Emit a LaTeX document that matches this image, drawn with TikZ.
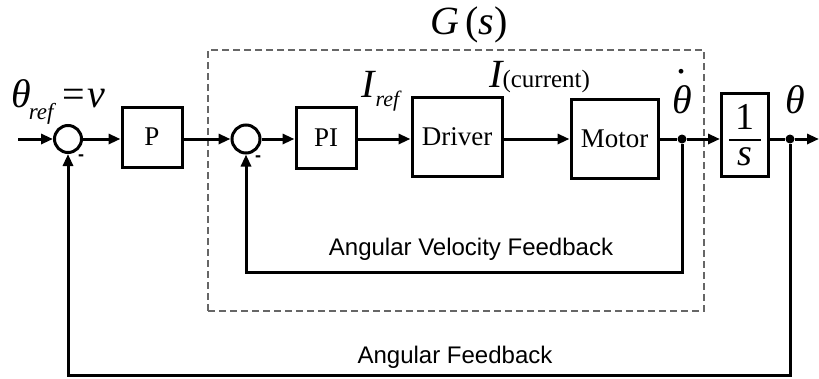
\documentclass[tikz,border=0pt]{standalone}
\usepackage{fontspec}
\setmainfont{Liberation Serif}
\setsansfont{Liberation Sans}
\usetikzlibrary{arrows.meta,positioning}
\newcommand{\dotTheta}{\ooalign{θ\cr\hidewidth\raisebox{1.0em}{.}\hidewidth\cr}}

\begin{document}
\begin{tikzpicture}[
  x=1pt, y=-1pt,
  >={Triangle[length=12pt,width=10pt]},
  signal/.style={->, draw=black, line width=3pt},
  wire/.style={draw=black, line width=3pt},
  block/.style={
    draw=black, fill=white, line width=3pt,
    inner sep=0pt, font=\fontsize{27}{29}\selectfont
  },
  summer/.style={
    circle, draw=black, line width=3pt,
    minimum size=27pt, inner sep=0pt
  },
  branch/.style={circle, fill=black, minimum size=9pt, inner sep=0pt},
  plant/.style={
    draw=black!60, dash pattern=on 7pt off 4pt,
    line width=1.3pt, inner sep=0pt
  },
  symbol/.style={font=\fontsize{40}{42}\selectfont\itshape, inner sep=0pt},
  annotation/.style={font=\sffamily\fontsize{24}{26}\selectfont, inner sep=0pt},
  minus/.style={font=\sffamily\bfseries\fontsize{18}{18}\selectfont, inner sep=0pt}
]
\useasboundingbox (0,0) rectangle (819,378);

% Plant G(s) boundary.
\node[plant, minimum width=496pt, minimum height=261pt] (plantBox) at (456,180.5) {};
\node[symbol, anchor=base] (plantLabel) at (469,34)
  {G\,{\upshape(}s{\upshape)}};

% Forward path.
\coordinate (input) at (18,139);
\node[summer] (sumOuter) at (68,139) {};
\node[block, minimum width=60pt, minimum height=60pt] (pCtrl) at (152,137) {P};
\node[summer, minimum size=28pt] (sumInner) at (246,139) {};
\node[block, minimum width=60pt, minimum height=61pt] (piCtrl) at (326,137.5) {PI};
\node[block, minimum width=90pt, minimum height=79pt] (driver) at (457,136.5) {Driver};
\node[block, minimum width=87pt, minimum height=79pt] (motor) at (614.5,138.5) {Motor};
\node[branch] (velFork) at (682,139) {};
\node[block, minimum width=47pt, minimum height=83pt] (integrator) at (745,135)
  {\fontsize{38}{38}\selectfont
   $\displaystyle{\makebox[32pt]{1}\above 2pt\mbox{\itshape s}}$};
\node[branch] (angFork) at (790,139) {};
\coordinate (output) at (819,139);

\draw[signal] (input) -- (sumOuter.west);
\draw[signal] (sumOuter.east) -- (sumOuter -| pCtrl.west);
\draw[signal] (sumOuter -| pCtrl.east) -- (sumInner.west);
\draw[signal] (sumInner.east) -- (sumInner -| piCtrl.west);
\draw[signal] (sumInner -| piCtrl.east) -- (sumInner -| driver.west);
\draw[signal] (sumInner -| driver.east) -- (sumInner -| motor.west);
\draw[wire] (sumInner -| motor.east) -- (velFork);
\draw[signal] (velFork) -- (velFork -| integrator.west);
\draw[wire] (velFork -| integrator.east) -- (angFork);
\draw[signal] (angFork) -- (output);

% Feedback loops.
\draw[signal] (velFork) -- ++(0,133) -| (sumInner.south);
\draw[signal] (angFork) -- ++(0,236) -| (sumOuter.south);
\node[minus] (minusOuter) at (81,158) {-};
\node[minus] (minusInner) at (258,159) {-};

% Signal labels.
\node[symbol, anchor=base west] (refLabel) at (11,107)
  {θ\kern-2pt\raisebox{-12pt}{\fontsize{23}{23}\selectfont ref}\hspace{9pt}{\upshape =}\hspace{2pt}v};
\node[symbol, anchor=base west] (irefLabel) at (361,97)
  {I\kern1pt\raisebox{-9pt}{\fontsize{22}{22}\selectfont ref}};
\node[symbol, anchor=base west] (icurLabel) at (489,87)
  {I{\upshape\fontsize{25}{25}\selectfont (current)}};
\node[symbol, anchor=base] (velLabel) at (682,113) {\dotTheta};
\node[symbol, anchor=base] (angLabel) at (795,113) {θ};

\node[annotation, anchor=base] (velFeedback) at (471,255) {Angular Velocity Feedback};
\node[annotation, anchor=base] (angFeedback) at (455,363) {Angular Feedback};

\end{tikzpicture}
\end{document}
